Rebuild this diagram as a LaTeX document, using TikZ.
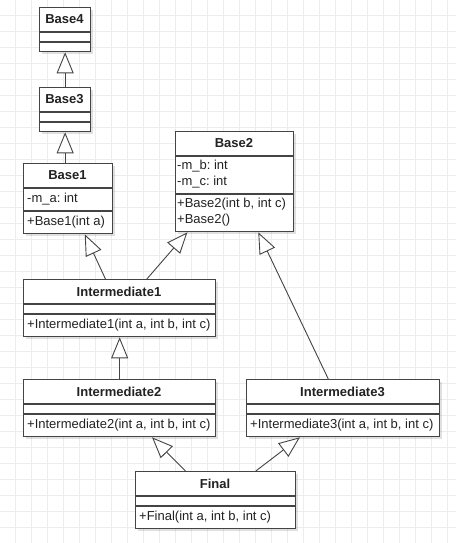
\documentclass[tikz,border=0pt]{standalone}
\usepackage{fontspec}
\setmainfont{Liberation Sans}
\usetikzlibrary{arrows.meta,shadows}
\definecolor{umlline}{HTML}{444444}
\definecolor{umltext}{HTML}{222222}
\definecolor{gridline}{HTML}{EDEDED}
\tikzset{
  classbox/.style={draw=umlline, line width=1.3pt, fill=white, inner sep=0pt, anchor=north west,
    drop shadow={shadow xshift=2pt, shadow yshift=-2pt, opacity=0.12, fill=black}},
  classname/.style={inner sep=0pt, text=umltext, font=\bfseries\fontsize{13}{15}\selectfont},
  member/.style={anchor=west, align=left, inner sep=0pt, text=umltext,
    font=\fontsize{13}{16}\selectfont\frenchspacing},
  divider/.style={draw=umlline, line width=1.3pt},
  inherit/.style={draw=umlline, line width=0.9pt, -{Triangle[open, fill=white, length=21pt, width=17pt]}}
}
\begin{document}
\begin{tikzpicture}[x=1pt, y=-1pt]
  % Canvas and grid
  \useasboundingbox (0,0) rectangle (456,543);
  \fill[white] (0,0) rectangle (456,543);
  \foreach \gx in {15,31,...,455} \draw[gridline, line width=0.8pt] (\gx,0) -- (\gx,543);
  \foreach \gy in {15,31,...,543} \draw[gridline, line width=0.8pt] (0,\gy) -- (456,\gy);
  % Base4
  \node[classbox, minimum width=51pt, minimum height=44pt] (base4) at (39,7) {};
  \node[classname] (base4name) at (64.5,19.5) {Base4};
  \draw[divider] (39,32) -- (90,32);
  \draw[divider] (39,42) -- (90,42);
  % Base3
  \node[classbox, minimum width=51pt, minimum height=44pt] (base3) at (39,87) {};
  \node[classname] (base3name) at (64.5,99.5) {Base3};
  \draw[divider] (39,112) -- (90,112);
  \draw[divider] (39,122) -- (90,122);
  % Base1
  \node[classbox, minimum width=89pt, minimum height=70pt] (base1) at (23,163) {};
  \node[classname] (base1name) at (67.5,175.5) {Base1};
  \draw[divider] (23,188) -- (112,188);
  \draw[divider] (23,211) -- (112,211);
  \node[member] (base1attr) at (27,199.5) {-m\_a: int};
  \node[member] (base1ops) at (27,222) {+Base1(int a)};
  % Base2
  \node[classbox, minimum width=118pt, minimum height=100pt] (base2) at (175,131) {};
  \node[classname] (base2name) at (234,143.5) {Base2};
  \draw[divider] (175,156) -- (293,156);
  \draw[divider] (175,194) -- (293,194);
  \node[member] (base2attr) at (177,174.5) {-m\_b: int\\-m\_c: int};
  \node[member] (base2ops) at (177,212) {+Base2(int b, int c)\\+Base2()};
  % Intermediate1
  \node[classbox, minimum width=192pt, minimum height=57pt] (int1) at (23,279) {};
  \node[classname] (int1name) at (119,291.5) {Intermediate1};
  \draw[divider] (23,304) -- (215,304);
  \draw[divider] (23,314) -- (215,314);
  \node[member] (int1ops) at (27,325) {+Intermediate1(int a, int b, int c)};
  % Intermediate2
  \node[classbox, minimum width=192pt, minimum height=57pt] (int2) at (23,379) {};
  \node[classname] (int2name) at (119,391.5) {Intermediate2};
  \draw[divider] (23,404) -- (215,404);
  \draw[divider] (23,414) -- (215,414);
  \node[member] (int2ops) at (27,425) {+Intermediate2(int a, int b, int c)};
  % Intermediate3
  \node[classbox, minimum width=193pt, minimum height=57pt] (int3) at (246,379) {};
  \node[classname] (int3name) at (342.5,391.5) {Intermediate3};
  \draw[divider] (246,404) -- (439,404);
  \draw[divider] (246,414) -- (439,414);
  \node[member] (int3ops) at (250,425) {+Intermediate3(int a, int b, int c)};
  % Final
  \node[classbox, minimum width=160pt, minimum height=57pt] (final) at (135,471) {};
  \node[classname] (finalname) at (215,483.5) {Final};
  \draw[divider] (135,496) -- (295,496);
  \draw[divider] (135,506) -- (295,506);
  \node[member] (finalops) at (139,517) {+Final(int a, int b, int c)};
  % Generalisations
  \draw[inherit] (base3.north) -- (base4.south);
  \draw[inherit] (base3.south |- base1.north) -- (base3.south);
  \draw[inherit] (int1.116) -- (base1.-65);
  \draw[inherit] (int1.47.6) -- (base2.-133.2);
  \draw[inherit] (int2.north) -- (int1.south);
  \draw[inherit] (int3.117) -- (base2.-65.3);
  \draw[inherit] (final.136.5) -- (int2.-42.6);
  \draw[inherit] (final.36.2) -- (int3.-146.2);
\end{tikzpicture}
\end{document}
